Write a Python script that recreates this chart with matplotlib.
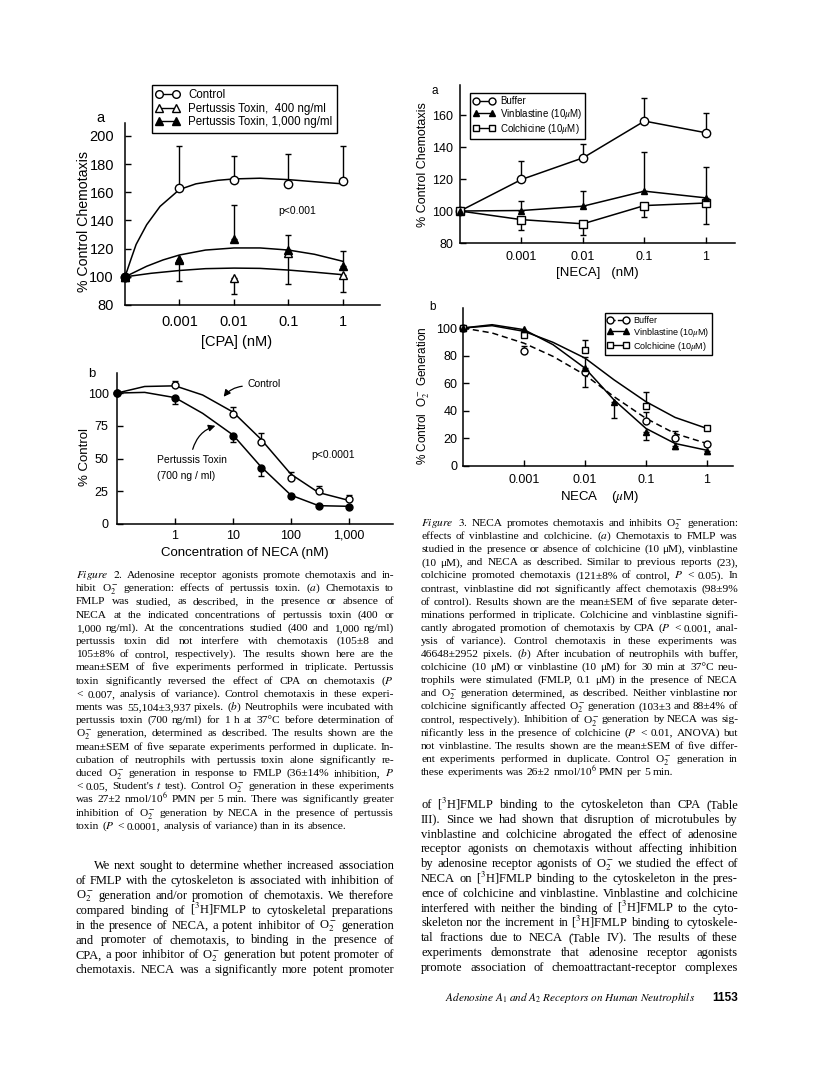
import matplotlib
matplotlib.use("Agg")
import matplotlib.pyplot as plt
from matplotlib import font_manager
from matplotlib.lines import Line2D
from matplotlib.ticker import NullLocator

W, H = 816, 1076

# ---------------- Figure 2a : [CPA] (nM), % control chemotaxis ----------------
cpa_x = [1e-4, 1e-3, 1e-2, 1e-1, 1]          # first point = no CPA
cpa_ctrl = [100, 163, 169, 166, 168]
cpa_ctrl_err = [None, 193, 186, 187, 193]
cpa_pt400 = [100, 112, 99, 117, 101]
cpa_pt400_err = [None, 97, 88, 95, 89]
cpa_pt1000 = [100, 113, 127, 119, 108]
cpa_pt1000_err = [None, None, 151, 130, 118]
# fitted curves as drawn in the figure
fit_ctrl_x = [1e-4, 1.3e-4, 1.6e-4, 2.5e-4, 4.4e-4, 1e-3, 2e-3, 5e-3, 1e-2, 3e-2, 1e-1, 3e-1, 1]
fit_ctrl_y = [100, 113, 123, 137, 150, 162, 166, 168.5, 169.5, 170, 169, 167.5, 166]
fit_pt1000_x = [1e-4, 2.5e-4, 5e-4, 1e-3, 3e-3, 1e-2, 3e-2, 1e-1, 3e-1, 1]
fit_pt1000_y = [100, 107.5, 112, 115.5, 119, 120.5, 120.5, 119, 116, 111]
fit_pt400_x = [1e-4, 3e-4, 1e-3, 3e-3, 1e-2, 3e-2, 1e-1, 3e-1, 1]
fit_pt400_y = [100, 102.5, 104.5, 105.8, 106.2, 106, 104.8, 103.3, 101.5]

# ---------------- Figure 2b : NECA (nM), % control O2- ----------------
neca2_x = [0.1, 1, 10, 30, 100, 300, 1000]    # first point = no NECA
neca2_ctrl = [100, 105.8, 84, 62.7, 34.8, 25, 18.8]
neca2_ctrl_err = [None, 109, 89, 69.5, 39.5, 29, 22.5]
neca2_pt = [100, 96, 67, 42.4, 21.6, 14, 13]
neca2_pt_err = [None, 91.5, 62.5, 37, None, None, None]
fit2b_x = [0.1, 0.3, 1, 3, 10, 30, 100, 300, 1000]
fit2b_ctrl = [100, 105, 105.5, 98.5, 85.5, 65, 38, 24, 18]
fit2b_pt = [100, 100.5, 96.5, 84.5, 68, 44, 22, 14, 13.5]

# ---------------- Figure 3a : [NECA] (nM), % control chemotaxis ----------------
neca3a_x = [1e-4, 1e-3, 1e-2, 1e-1, 1]
buf3a = [100, 119.7, 133.2, 156.2, 148.9]
buf3a_err = [None, 131, 141.6, 170.4, 161.4]
vin3a = [100, 100.3, 103, 112.4, 108.2]
vin3a_err = [None, 106, 112.8, 137, 127.6]
col3a = [100, 94.6, 92, 103.4, 105]
col3a_err = [None, 88, 85.2, 96, 92.1]

# ---------------- Figure 3b : NECA (uM), % control O2- ----------------
buf3b_x = [1e-4, 1e-3, 1e-2, 1e-1, 0.3, 1]
buf3b = [100, 83.7, 68.4, 32.8, 20.6, 16.3]
buf3b_err = [None, 87, 57, 39, 25.5, None]
vin3b_x = [1e-4, 1e-3, 1e-2, 0.03, 1e-1, 0.3, 1]
vin3b = [100, 99, 71, 46.6, 24.3, 14.6, 11]
vin3b_err = [None, None, 79, 34.5, 18.7, 12, 9]
col3b_x = [1e-4, 1e-3, 1e-2, 1e-1, 1]
col3b = [100, 94.7, 84.2, 43.4, 27.7]
col3b_err = [None, None, 91.5, 53.4, None]
fit3b_x = [1e-4, 3e-4, 1e-3, 3e-3, 1e-2, 3e-2, 1e-1, 3e-1, 1]
fit3b_buf = [100, 96.4, 89, 79.4, 66, 50.2, 34.5, 23.5, 16.3]
fit3b_vin = [100, 102.4, 98.8, 87.9, 70.9, 47.8, 27.2, 16.3, 11.4]
fit3b_col = [100, 101.7, 97.6, 89.6, 78.2, 62.4, 46.6, 35.2, 27.2]

cap2 = [
    "$\\mathit{Figure}$ $\\mathit{2.}$ Adenosine receptor agonists promote chemotaxis and in-",
    "hibit O$_2^-$ generation: effects of pertussis toxin. ($\\mathit{a}$) Chemotaxis to",
    "FMLP was studied, as described, in the presence or absence of",
    "NECA at the indicated concentrations of pertussis toxin (400 or",
    "1,000 ng/ml). At the concentrations studied (400 and 1,000 ng/ml)",
    "pertussis toxin did not interfere with chemotaxis (105±8 and",
    "105±8% of control, respectively). The results shown here are the",
    "mean±SEM of five experiments performed in triplicate. Pertussis",
    "toxin significantly reversed the effect of CPA on chemotaxis ($\\mathit{P}$",
    "< 0.007, analysis of variance). Control chemotaxis in these experi-",
    "ments was 55,104±3,937 pixels. ($\\mathit{b}$) Neutrophils were incubated with",
    "pertussis toxin (700 ng/ml) for 1 h at 37°C before determination of",
    "O$_2^-$ generation, determined as described. The results shown are the",
    "mean±SEM of five separate experiments performed in duplicate. In-",
    "cubation of neutrophils with pertussis toxin alone significantly re-",
    "duced O$_2^-$ generation in response to FMLP (36±14% inhibition, $\\mathit{P}$",
    "< 0.05, Student's $\\mathit{t}$ test). Control O$_2^-$ generation in these experiments",
    "was 27±2 nmol/10$^6$ PMN per 5 min. There was significantly greater",
    "inhibition of O$_2^-$ generation by NECA in the presence of pertussis",
    "toxin ($\\mathit{P}$ < 0.0001, analysis of variance) than in its absence.",
]
cap3 = [
    "$\\mathit{Figure}$ $\\mathit{3.}$ NECA promotes chemotaxis and inhibits O$_2^-$ generation:",
    "effects of vinblastine and colchicine. ($\\mathit{a}$) Chemotaxis to FMLP was",
    "studied in the presence or absence of colchicine (10 μM), vinblastine",
    "(10 μM), and NECA as described. Similar to previous reports (23),",
    "colchicine promoted chemotaxis (121±8% of control, $\\mathit{P}$ < 0.05). In",
    "contrast, vinblastine did not significantly affect chemotaxis (98±9%",
    "of control). Results shown are the mean±SEM of five separate deter-",
    "minations performed in triplicate. Colchicine and vinblastine signifi-",
    "cantly abrogated promotion of chemotaxis by CPA ($\\mathit{P}$ < 0.001, anal-",
    "ysis of variance). Control chemotaxis in these experiments was",
    "46648±2952 pixels. ($\\mathit{b}$) After incubation of neutrophils with buffer,",
    "colchicine (10 μM) or vinblastine (10 μM) for 30 min at 37°C neu-",
    "trophils were stimulated (FMLP, 0.1 μM) in the presence of NECA",
    "and O$_2^-$ generation determined, as described. Neither vinblastine nor",
    "colchicine significantly affected O$_2^-$ generation (103±3 and 88±4% of",
    "control, respectively). Inhibition of O$_2^-$ generation by NECA was sig-",
    "nificantly less in the presence of colchicine ($\\mathit{P}$ < 0.01, ANOVA) but",
    "not vinblastine. The results shown are the mean±SEM of five differ-",
    "ent experiments performed in duplicate. Control O$_2^-$ generation in",
    "these experiments was 26±2 nmol/10$^6$ PMN per 5 min.",
]
body_left = [
    "We next sought to determine whether increased association",
    "of FMLP with the cytoskeleton is associated with inhibition of",
    "O$_2^-$ generation and/or promotion of chemotaxis. We therefore",
    "compared binding of [$^3$H]FMLP to cytoskeletal preparations",
    "in the presence of NECA, a potent inhibitor of O$_2^-$ generation",
    "and promoter of chemotaxis, to binding in the presence of",
    "CPA, a poor inhibitor of O$_2^-$ generation but potent promoter of",
    "chemotaxis. NECA was a significantly more potent promoter",
]
body_right = [
    "of [$^3$H]FMLP binding to the cytoskeleton than CPA (Table",
    "III). Since we had shown that disruption of microtubules by",
    "vinblastine and colchicine abrogated the effect of adenosine",
    "receptor agonists on chemotaxis without affecting inhibition",
    "by adenosine receptor agonists of O$_2^-$ we studied the effect of",
    "NECA on [$^3$H]FMLP binding to the cytoskeleton in the pres-",
    "ence of colchicine and vinblastine. Vinblastine and colchicine",
    "interfered with neither the binding of [$^3$H]FMLP to the cyto-",
    "skeleton nor the increment in [$^3$H]FMLP binding to cytoskele-",
    "tal fractions due to NECA (Table IV). The results of these",
    "experiments demonstrate that adenosine receptor agonists",
    "promote association of chemoattractant-receptor complexes",
]

names = {f.name for f in font_manager.fontManager.ttflist}
SANS = "Liberation Sans Narrow" if "Liberation Sans Narrow" in names else "Liberation Sans"
SERIF = "Liberation Serif"
plt.rcParams["font.family"] = SANS
plt.rcParams["mathtext.fontset"] = "stix"

fig = plt.figure(figsize=(W / 100, H / 100), dpi=100)
renderer = fig.canvas.get_renderer()


def px(x, y):
    return x / W, 1 - y / H


def make_ax(x0, y0, x1, y1):
    ax = fig.add_axes([x0 / W, 1 - y1 / H, (x1 - x0) / W, (y1 - y0) / H])
    ax.patch.set_visible(False)
    ax.spines[["top", "right"]].set_visible(False)
    for s in ax.spines.values():
        s.set_linewidth(1.1)
    ax.set_xscale("log")
    ax.xaxis.set_minor_locator(NullLocator())
    return ax


def finish(ax, xlim, ylim, xticks, xlabels, yticks, size, ypad, xpad):
    ax.set_xlim(xlim)
    ax.set_ylim(ylim)
    ax.set_xticks(xticks)
    ax.set_xticklabels(xlabels)
    ax.xaxis.set_minor_locator(NullLocator())
    ax.set_yticks(yticks)
    ax.tick_params(direction="in", length=4, width=1, labelsize=size)
    ax.tick_params(axis="y", pad=ypad)
    ax.tick_params(axis="x", pad=xpad)


def bars(ax, x, y, end):
    for xi, yi, ei in zip(x, y, end):
        if ei is None:
            continue
        lo, hi = max(yi - ei, 0), max(ei - yi, 0)
        ax.errorbar([xi], [yi], yerr=[[lo], [hi]], fmt="none", ecolor="k",
                    elinewidth=1, capsize=2.5, capthick=1, zorder=2, clip_on=False)


def pts(ax, x, y, marker, filled, ms=5.5):
    ax.plot(x, y, ls="none", marker=marker, ms=ms, mec="k", mew=1,
            mfc="k" if filled else "white", zorder=3, clip_on=False)


def text_block(lines, x0, x1, y0, dy, size, indent=0, justify_last=False):
    space = size * 0.25 * 100 / 72
    for i, line in enumerate(lines):
        xs = x0 + (indent if i == 0 else 0)
        words = line.split()
        arts = [fig.text(0, 0, w, fontsize=size, family=SERIF, va="baseline") for w in words]
        ws = [a.get_window_extent(renderer).width for a in arts]
        last = i == len(lines) - 1
        if len(words) > 1 and (not last or justify_last):
            gap = (x1 - xs - sum(ws)) / (len(words) - 1)
        else:
            gap = space
        x = xs
        for a, w in zip(arts, ws):
            a.set_position(px(x, y0 + i * dy))
            x += w + gap


# ---------- Fig 2a ----------
ax = make_ax(125, 123, 380, 305)
ax.plot(fit_ctrl_x, fit_ctrl_y, "k-", lw=1.1, zorder=1, clip_on=False)
ax.plot(fit_pt1000_x, fit_pt1000_y, "k-", lw=1.1, zorder=1, clip_on=False)
ax.plot(fit_pt400_x, fit_pt400_y, "k-", lw=1.1, zorder=1, clip_on=False)
bars(ax, cpa_x, cpa_ctrl, cpa_ctrl_err)
bars(ax, cpa_x, cpa_pt400, cpa_pt400_err)
bars(ax, cpa_x, cpa_pt1000, cpa_pt1000_err)
pts(ax, cpa_x, cpa_ctrl, "o", False, 6)
pts(ax, cpa_x, cpa_pt400, "^", False, 6)
pts(ax, cpa_x, cpa_pt1000, "^", True, 6)
pts(ax, cpa_x[:1], cpa_ctrl[:1], "o", True, 6)
finish(ax, (1e-4, 4.78), (80, 209.2), [1e-3, 1e-2, 1e-1, 1], ["0.001", "0.01", "0.1", "1"],
       range(80, 201, 20), 10.5, 8, 7)
handles = [Line2D([], [], color="k", lw=1, marker=m, ms=5.5, mec="k", mfc=f)
           for m, f in [("o", "white"), ("^", "white"), ("^", "k")]]
fig.legend(handles, ["Control", "Pertussis Toxin,  400 ng/ml", "Pertussis Toxin, 1,000 ng/ml"],
           loc="upper left", bbox_to_anchor=px(152, 85), bbox_transform=fig.transFigure,
           numpoints=2, handlelength=2.0, fontsize=8.3, fancybox=False, edgecolor="k",
           framealpha=1, borderpad=0.35, labelspacing=0.15, handletextpad=0.8, borderaxespad=0)
fig.legends[-1].get_frame().set_linewidth(1)
fig.text(*px(100, 122), "a", fontsize=10.5, ha="center", va="baseline")
fig.text(*px(84, 221), "% Control Chemotaxis", fontsize=10.2, rotation=90, ha="center", va="center")
fig.text(*px(237, 342), "[CPA] (nM)", fontsize=10.5, ha="center", va="center")
fig.text(*px(297, 211), "p<0.001", fontsize=7.5, ha="center", va="center")

# ---------- Fig 2b ----------
ax = make_ax(117, 373, 393, 524)
ax.plot(fit2b_x, fit2b_ctrl, "k-", lw=1.1, zorder=1, clip_on=False)
ax.plot(fit2b_x, fit2b_pt, "k-", lw=1.1, zorder=1, clip_on=False)
bars(ax, neca2_x, neca2_ctrl, neca2_ctrl_err)
bars(ax, neca2_x, neca2_pt, neca2_pt_err)
pts(ax, neca2_x, neca2_ctrl, "o", False, 5)
pts(ax, neca2_x, neca2_pt, "o", True, 5)
finish(ax, (0.1, 5750), (0, 115.3), [1, 10, 100, 1000], ["1", "10", "100", "1,000"],
       [0, 25, 50, 75, 100], 9, 6, 4)
fig.text(*px(92, 377), "b", fontsize=9.5, ha="center", va="baseline")
fig.text(*px(85, 457), "% Control", fontsize=9.5, rotation=90, ha="center", va="center")
fig.text(*px(245, 553), "Concentration of NECA (nM)", fontsize=9.5, ha="center", va="center")
fig.text(*px(333, 455), "p<0.0001", fontsize=7.5, ha="center", va="center")
fig.text(*px(248, 384), "Control", fontsize=7.5, ha="left", va="center")
fig.text(*px(157, 460), "Pertussis Toxin", fontsize=7.5, ha="left", va="center")
fig.text(*px(157, 476), "(700 ng / ml)", fontsize=7.5, ha="left", va="center")
fig.add_artist(matplotlib.patches.FancyArrowPatch(
    px(245, 386), px(222, 399), transform=fig.transFigure, arrowstyle="-|>,head_length=4,head_width=2",
    connectionstyle="arc3,rad=0.25", color="k", lw=0.9))
fig.add_artist(matplotlib.patches.FancyArrowPatch(
    px(192, 452), px(218, 425), transform=fig.transFigure, arrowstyle="-|>,head_length=4,head_width=2",
    connectionstyle="arc3,rad=-0.3", color="k", lw=0.9))

# ---------- Fig 3a ----------
ax = make_ax(460, 85, 735, 243)
ax.plot(neca3a_x, buf3a, "k-", lw=1.1, zorder=1, clip_on=False)
ax.plot(neca3a_x, vin3a, "k-", lw=1.1, zorder=1, clip_on=False)
ax.plot(neca3a_x, col3a, "k-", lw=1.1, zorder=1, clip_on=False)
bars(ax, neca3a_x, buf3a, buf3a_err)
bars(ax, neca3a_x, vin3a, vin3a_err)
bars(ax, neca3a_x, col3a, col3a_err)
pts(ax, neca3a_x, buf3a, "o", False, 6)
pts(ax, neca3a_x, col3a, "s", False, 5.5)
pts(ax, neca3a_x, vin3a, "^", True, 5)
finish(ax, (1e-4, 2.97), (80, 178.75), [1e-3, 1e-2, 1e-1, 1], ["0.001", "0.01", "0.1", "1"],
       range(80, 161, 20), 9, 5, 6)
handles = [Line2D([], [], color="k", lw=1, marker=m, ms=s, mec="k", mfc=f)
           for m, f, s in [("o", "white", 5), ("^", "k", 4.5), ("s", "white", 5)]]
ax.legend(handles, ["Buffer", "Vinblastine (10$\\mu$M)", "Colchicine (10$\\mu$M)"],
          loc="upper left", bbox_to_anchor=px(470, 93), bbox_transform=fig.transFigure,
          numpoints=2, handlelength=2.3, fontsize=7, fancybox=False, edgecolor="k",
          framealpha=1, borderpad=0.3, labelspacing=0.1, handletextpad=0.5, borderaxespad=0
          ).get_frame().set_linewidth(1)
fig.text(*px(435, 94), "a", fontsize=8.5, ha="center", va="baseline")
fig.text(*px(423, 165), "% Control Chemotaxis", fontsize=9, rotation=90, ha="center", va="center")
fig.text(*px(597, 273), "[NECA]   (nM)", fontsize=9.5, ha="center", va="center")

# ---------- Fig 3b ----------
ax = make_ax(463, 308, 733, 466)
ax.plot(fit3b_x, fit3b_buf, "k--", lw=1.1, dashes=(4, 2.5), zorder=1, clip_on=False)
ax.plot(fit3b_x, fit3b_vin, "k-", lw=1.1, zorder=1, clip_on=False)
ax.plot(fit3b_x, fit3b_col, "k-", lw=1.1, zorder=1, clip_on=False)
bars(ax, buf3b_x, buf3b, buf3b_err)
bars(ax, vin3b_x, vin3b, vin3b_err)
bars(ax, col3b_x, col3b, col3b_err)
pts(ax, buf3b_x, buf3b, "o", False, 5)
pts(ax, col3b_x, col3b, "s", False, 5)
pts(ax, vin3b_x, vin3b, "^", True, 5)
finish(ax, (1e-4, 2.67), (0, 114.5), [1e-3, 1e-2, 1e-1, 1], ["0.001", "0.01", "0.1", "1"],
       range(0, 101, 20), 9, 4, 6)
handles = [Line2D([], [], color="k", lw=1, ls=l, marker=m, ms=s, mec="k", mfc=f)
           for m, f, s, l in [("o", "white", 5, "--"), ("^", "k", 4.5, "-"), ("s", "white", 5, "-")]]
ax.legend(handles, ["Buffer", "Vinblastine (10$\\mu$M)", "Colchicine (10$\\mu$M)"],
          loc="upper left", bbox_to_anchor=px(605, 313), bbox_transform=fig.transFigure,
          numpoints=2, handlelength=2.3, fontsize=6.5, fancybox=False, edgecolor="k",
          framealpha=1, borderpad=0.3, labelspacing=0.1, handletextpad=0.5, borderaxespad=0
          ).get_frame().set_linewidth(1)
fig.text(*px(433, 310), "b", fontsize=8.5, ha="center", va="baseline")
fig.text(*px(423, 396), "% Control  O$_2^-$ Generation", fontsize=8.5, rotation=90, ha="center", va="center")
fig.text(*px(600, 497), "NECA    ($\\mu$M)", fontsize=9.5, ha="center", va="center")

# ---------- text ----------
text_block(cap2, 76, 394, 578, 13.2, 8.2)
text_block(cap3, 421, 738, 526, 13.1, 8.2)
text_block(body_left, 76, 394, 869, 14.9, 9.0, indent=18, justify_last=True)
text_block(body_right, 421, 738, 808, 14.8, 9.0, justify_last=True)
fig.text(*px(445, 1001), "$\\mathit{Adenosine\\ A_1\\ and\\ A_2\\ Receptors\\ on\\ Human\\ Neutrophils}$",
         fontsize=8.1, va="baseline", ha="left", family=SERIF)
fig.text(*px(738, 1001), "1153", fontsize=8.5, fontweight="bold", va="baseline", ha="right",
         family="Liberation Sans")

fig.savefig("out.png", dpi=100)
